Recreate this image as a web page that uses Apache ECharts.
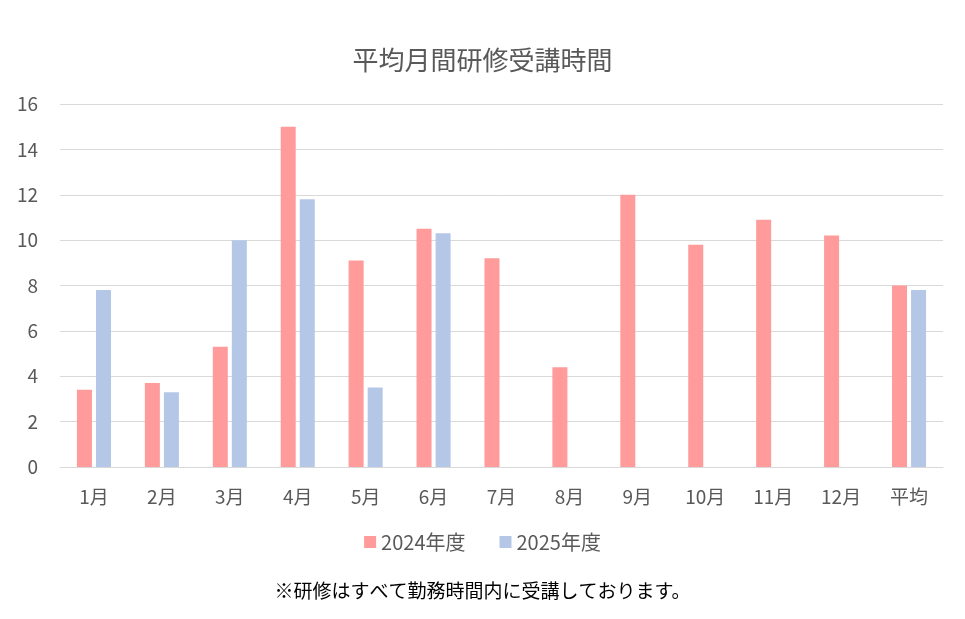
<!DOCTYPE html>
<html><head><meta charset="utf-8">
<script src="https://cdn.jsdelivr.net/npm/echarts@6/dist/echarts.min.js"></script>
<style>html,body{margin:0;padding:0;background:#fff}#c{width:965px;height:619px}</style>
</head><body><div id="c"></div>
<script>
const categories = ['1月','2月','3月','4月','5月','6月','7月','8月','9月','10月','11月','12月','平均'];
const values2024 = [3.4,3.7,5.3,15.0,9.1,10.5,9.2,4.4,12.0,9.8,10.9,10.2,8.0];
const values2025 = [7.8,3.3,10.0,11.8,3.5,10.3,null,null,null,null,null,null,7.8];
const seriesNames = ['2024年度','2025年度'];
const font = '"Noto Sans CJK JP", "Noto Sans", sans-serif';
const chart = echarts.init(document.getElementById('c'));
chart.setOption({
  animation:false,
  title:{text:'平均月間研修受講時間',left:'center',top:42,textStyle:{fontFamily:font,fontSize:26,fontWeight:'normal',color:'#595959'}},
  legend:{data:seriesNames,bottom:62,itemWidth:12,itemHeight:12,itemGap:34,icon:'rect',textStyle:{fontFamily:font,fontSize:20,color:'#595959'}},
  graphic:[{type:'text',left:'center',top:581,style:{text:'※研修はすべて勤務時間内に受講しております。',font:'19px '+font,fill:'#000'}}],
  grid:{left:60,right:22,top:104,bottom:152},
  xAxis:{type:'category',data:categories,axisTick:{show:false},axisLine:{lineStyle:{color:'#d9d9d9'}},axisLabel:{fontFamily:font,fontSize:19,color:'#595959',margin:20}},
  yAxis:{type:'value',min:0,max:16,interval:2,splitLine:{lineStyle:{color:'#d9d9d9'}},axisLabel:{fontFamily:font,fontSize:19,color:'#595959',margin:22}},
  series:[
    {name:seriesNames[0],type:'bar',data:values2024,barWidth:15,barGap:'27%',itemStyle:{color:'#FF9B9B'}},
    {name:seriesNames[1],type:'bar',data:values2025,barWidth:15,itemStyle:{color:'#B4C7E7'}}
  ]
});
</script></body></html>
